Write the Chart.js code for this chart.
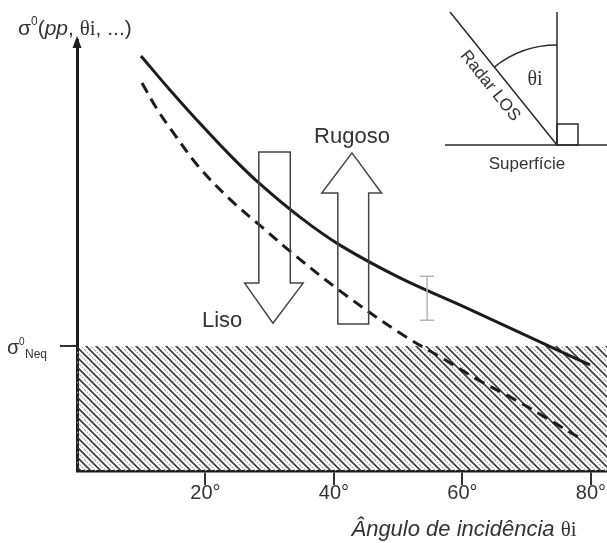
<!DOCTYPE html>
<html><head><meta charset="utf-8">
<script src="https://cdn.jsdelivr.net/npm/chart.js@4/dist/chart.umd.min.js"></script>
<style>html,body{margin:0;padding:0;background:#fff;overflow:hidden}#wrap{width:607px;height:543px;position:relative}</style>
</head><body><div id="wrap"><canvas id="c" width="607" height="543"></canvas></div>
<script>
// ---- data (angle in degrees, backscatter in arbitrary units 0-100) ----
const angleTicks = [20, 40, 60, 80];
const roughAngles = [9.96, 14.47, 18.68, 23.81, 28.48, 34.71, 40.93, 50.27, 60.70, 73.15, 79.84];
const roughValues = [96.3, 88.4, 81.4, 73.3, 66.6, 58.9, 52.4, 44.8, 37.8, 29.2, 24.6];
const smoothAngles = [10.12, 12.45, 14.79, 18.99, 24.12, 28.95, 33.15, 40.93, 50.27, 57.28, 62.72, 67.39, 72.84, 78.76];
const smoothValues = [90.0, 84.0, 78.9, 70.5, 62.6, 56.4, 51.0, 41.8, 32.0, 25.8, 20.9, 17.2, 12.5, 7.2];
const noiseFloor = 29;           // sigma0 NEq level
const angleMax = 82.5;
const valueMax = 100;
// annotation arrows (data units)
const lisoArrow = {shaft: [28.3, 33.2], head: [26.1, 35.2], tail: 74.0, base: 43.6, tipX: 30.5, tip: 34.3};
const rugosoArrow = {shaft: [40.6, 45.4], head: [38.1, 47.4], tail: 34.1, base: 64.5, tipX: 42.8, tip: 73.8};
const errorBar = {x: 54.5, low: 35.0, high: 45.2};

const SANS = '"Liberation Sans", Arial, Helvetica, sans-serif';
const SERIF = '"Liberation Serif", "Times New Roman", serif';
const TXT = '#333';
const INK = '#1c1c1c';

function makeHatch() {
  const s = 10, c = document.createElement('canvas');
  c.width = s; c.height = s;
  const g = c.getContext('2d');
  g.lineCap = 'butt';
  g.strokeStyle = '#3a3a3a'; g.lineWidth = 1.6;
  g.beginPath();
  g.moveTo(-2, -2); g.lineTo(s + 2, s + 2);
  g.moveTo(-2, s - 2); g.lineTo(2, s + 2);
  g.moveTo(s - 2, -2); g.lineTo(s + 2, 2);
  g.stroke();
  g.strokeStyle = '#a8a8a8'; g.lineWidth = 1.4;
  g.setLineDash([1.4, 1.4]);
  g.beginPath();
  g.moveTo(-2, s / 2 - 2); g.lineTo(s / 2 + 2, s + 2);
  g.moveTo(s / 2 - 2, -2); g.lineTo(s + 2, s / 2 + 2);
  g.stroke();
  return g.createPattern(c, 'repeat');
}

const toPts = (xs, ys) => xs.map((x, i) => ({x, y: ys[i]}));

const decor = {
  id: 'decor',
  afterDraw(chart) {
    const ctx = chart.ctx, xs = chart.scales.x, ys = chart.scales.y;
    const X = v => xs.getPixelForValue(v), Y = v => ys.getPixelForValue(v);
    const area = chart.chartArea;
    ctx.save();
    // y-axis arrowhead
    ctx.fillStyle = INK;
    ctx.beginPath();
    ctx.moveTo(area.left, area.top - 4);
    ctx.lineTo(area.left - 4.5, area.top + 8);
    ctx.lineTo(area.left + 4.5, area.top + 8);
    ctx.closePath(); ctx.fill();

    // arrows
    function arrow(a) {
      ctx.beginPath();
      ctx.moveTo(X(a.shaft[0]), Y(a.tail));
      ctx.lineTo(X(a.shaft[1]), Y(a.tail));
      ctx.lineTo(X(a.shaft[1]), Y(a.base));
      ctx.lineTo(X(a.head[1]), Y(a.base));
      ctx.lineTo(X(a.tipX), Y(a.tip));
      ctx.lineTo(X(a.head[0]), Y(a.base));
      ctx.lineTo(X(a.shaft[0]), Y(a.base));
      ctx.closePath();
      ctx.strokeStyle = '#444'; ctx.lineWidth = 1.5; ctx.lineJoin = 'miter';
      ctx.stroke();
    }
    arrow(lisoArrow);
    arrow(rugosoArrow);

    // error bar
    ctx.strokeStyle = '#b5b5b5'; ctx.lineWidth = 1.5;
    const ex = X(errorBar.x), ey1 = Y(errorBar.high), ey2 = Y(errorBar.low);
    ctx.beginPath();
    ctx.moveTo(ex, ey1); ctx.lineTo(ex, ey2);
    ctx.moveTo(ex - 7, ey1); ctx.lineTo(ex + 7, ey1);
    ctx.moveTo(ex - 7, ey2); ctx.lineTo(ex + 7, ey2);
    ctx.stroke();

    // labels
    ctx.fillStyle = TXT; ctx.textBaseline = 'alphabetic';
    ctx.font = '22px ' + SANS; ctx.textAlign = 'center';
    ctx.fillText('Rugoso', X(rugosoArrow.tipX), Y(rugosoArrow.tip) - 10);
    ctx.textAlign = 'left';
    ctx.fillText('Liso', 202, 327);

    // sigma0 Neq label
    ctx.font = '20px ' + SANS;
    ctx.fillText('σ', 7, 354);
    ctx.font = '10px ' + SANS;
    ctx.fillText('0', 19, 345);
    ctx.font = '12px ' + SANS;
    ctx.fillText('Neq', 25, 358);

    // y-axis title: sigma0(pp, θi, ...)
    let x = 18; const by = 35;
    function piece(t, f, dy) { ctx.font = f; ctx.fillText(t, x, by + (dy || 0)); x += ctx.measureText(t).width; }
    piece('σ', '21px ' + SANS);
    piece('0', '12px ' + SANS, -10);
    piece('(', '21px ' + SANS);
    piece('pp', 'italic 21px ' + SANS);
    piece(', ', '21px ' + SANS);
    piece('θi', '21px ' + SERIF);
    piece(', ...)', '21px ' + SANS);

    // x-axis title
    const t1 = 'Ângulo de incidência ';
    ctx.font = '21px ' + SERIF;
    const w2 = ctx.measureText('θi').width;
    ctx.font = 'italic 22px ' + SANS;
    const w1 = ctx.measureText(t1).width;
    let tx = 464 - (w1 + w2) / 2;
    ctx.fillText(t1, tx, 536);
    ctx.font = '21px ' + SERIF;
    ctx.fillText('θi', tx + w1, 536);

    // inset geometry diagram
    const cx = 557, cy = 145;
    ctx.strokeStyle = '#2a2a2a'; ctx.lineWidth = 1.5;
    ctx.beginPath();
    ctx.moveTo(cx, 12); ctx.lineTo(cx, cy);
    ctx.moveTo(445, cy); ctx.lineTo(607, cy);
    ctx.moveTo(450, 12); ctx.lineTo(cx, cy);
    ctx.stroke();
    const ang = Math.atan2(cy - 12, cx - 450);
    ctx.beginPath();
    ctx.arc(cx, cy, 100, Math.PI + ang, 1.5 * Math.PI);
    ctx.stroke();
    ctx.strokeRect(cx, cy - 21, 21, 21);
    ctx.font = '20px ' + SERIF; ctx.textAlign = 'center';
    ctx.fillText('θi', 535, 85);
    ctx.font = '17px ' + SANS;
    ctx.fillText('Superfície', 527, 169);
    ctx.save();
    ctx.translate(490, 86);
    ctx.rotate(ang);
    ctx.textBaseline = 'middle';
    ctx.fillText('Radar LOS', 0, 0);
    ctx.restore();
    ctx.restore();
  }
};

new Chart(document.getElementById('c'), {
  type: 'line',
  data: {
    datasets: [
      {label: 'Rugoso', data: toPts(roughAngles, roughValues), borderColor: INK, borderWidth: 3,
       pointRadius: 0, tension: 0.35, fill: false, order: 1},
      {label: 'Liso', data: toPts(smoothAngles, smoothValues), borderColor: INK, borderWidth: 3,
       borderDash: [11, 7], pointRadius: 0, tension: 0.35, fill: false, order: 1},
      {label: 'NEq', data: [{x: 0, y: noiseFloor}, {x: angleMax, y: noiseFloor}], borderWidth: 0,
       borderColor: 'rgba(0,0,0,0)', pointRadius: 0, fill: 'origin', backgroundColor: makeHatch(), order: 3}
    ]
  },
  options: {
    responsive: false, animation: false, devicePixelRatio: 1,
    layout: {padding: {top: 40, left: 0, right: 0, bottom: 0}},
    plugins: {legend: {display: false}, tooltip: {enabled: false}},
    scales: {
      x: {
        type: 'linear', min: 0, max: angleMax,
        afterBuildTicks: s => { s.ticks = angleTicks.map(v => ({value: v})); },
        afterFit: s => { s.height = 72; },
        grid: {drawOnChartArea: false, drawTicks: true, tickLength: 14, color: '#333', lineWidth: 2},
        border: {display: true, color: INK, width: 2.5},
        ticks: {callback: v => v + '°', color: TXT, font: {family: SANS, size: 20}, padding: -4, maxRotation: 0}
      },
      y: {
        type: 'linear', min: 0, max: valueMax,
        afterBuildTicks: s => { s.ticks = [{value: noiseFloor}]; },
        afterFit: s => { s.width = 77; },
        grid: {drawOnChartArea: false, drawTicks: true, tickLength: 17, color: '#333', lineWidth: 2},
        border: {display: true, color: INK, width: 3},
        ticks: {callback: () => '', padding: 0}
      }
    }
  },
  plugins: [decor]
});
</script>
</body></html>
